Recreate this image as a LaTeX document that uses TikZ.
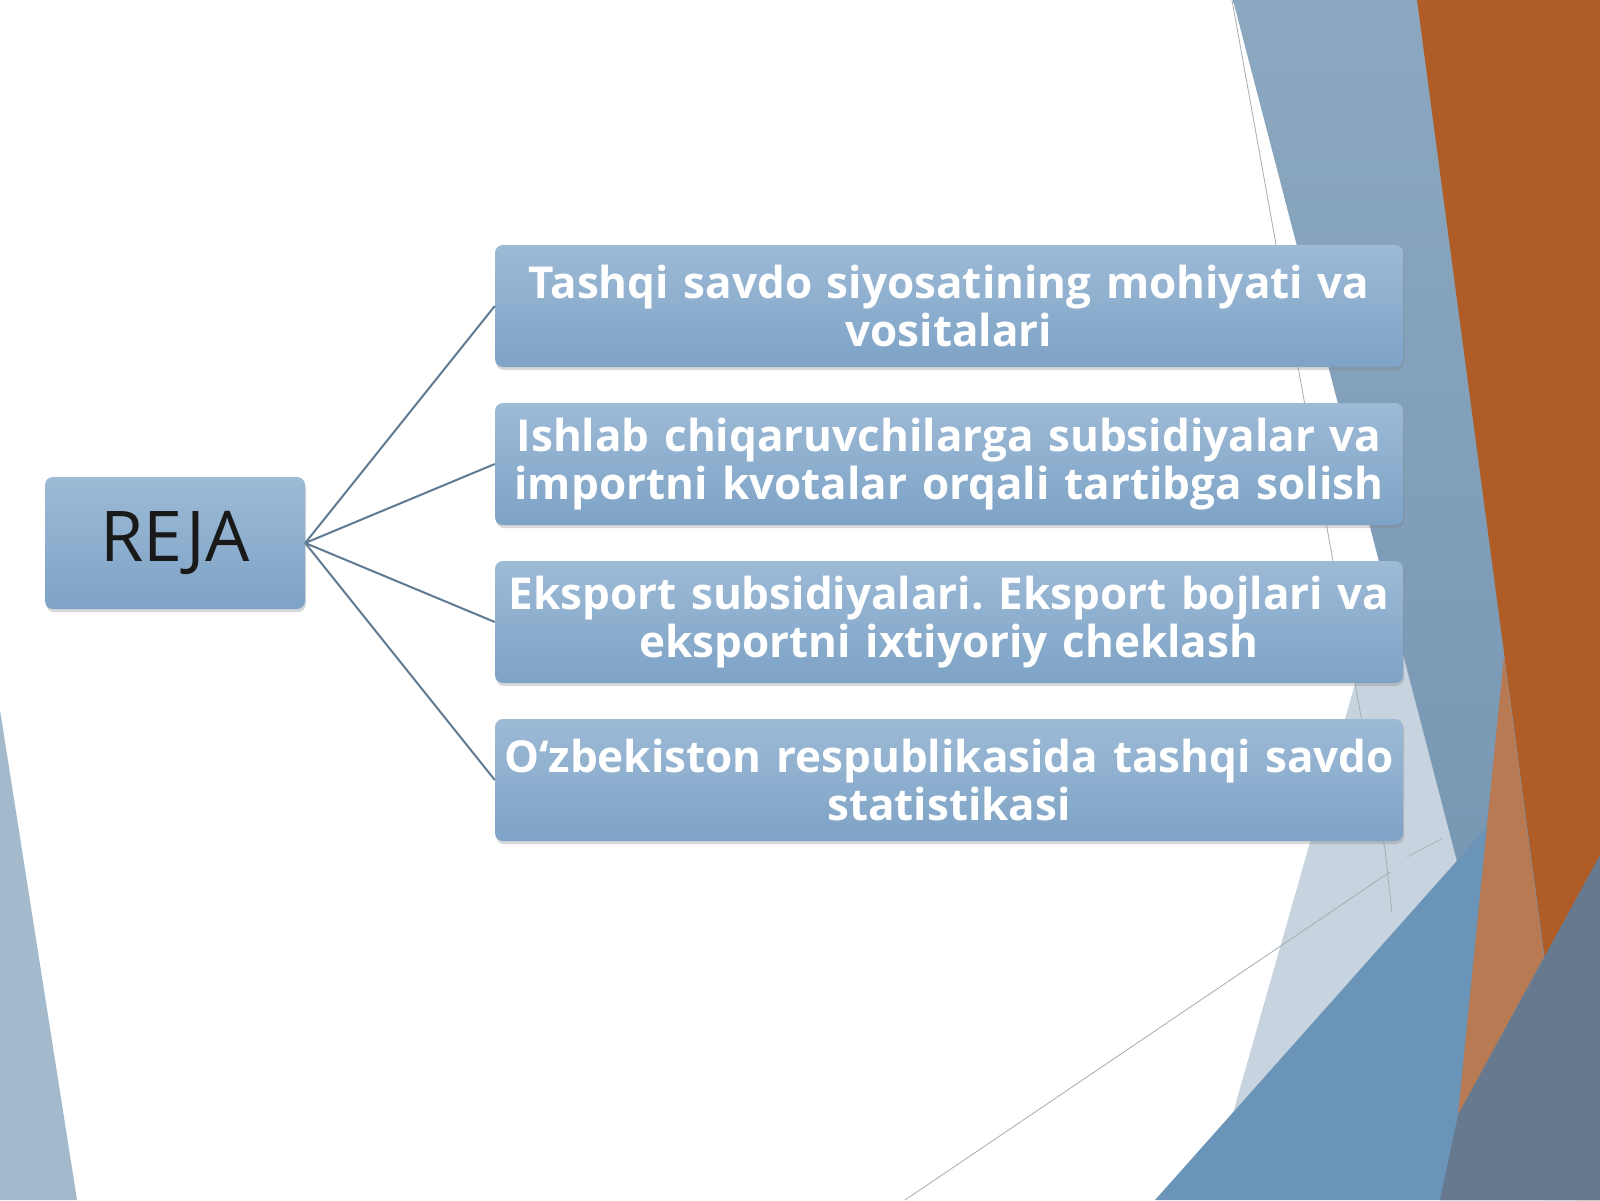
\documentclass[tikz,border=0pt]{standalone}
\usepackage{fontspec}
\setmainfont{Open Sans}
\usetikzlibrary{shadows}
\frenchspacing
\definecolor{leftc}{HTML}{A3B9CC}
\definecolor{bandtop}{HTML}{8CA8C0}
\definecolor{bandbot}{HTML}{7191AF}
\definecolor{lightc}{HTML}{C7D3DE}
\definecolor{midblue}{HTML}{6A94B8}
\definecolor{orangec}{HTML}{AF5C27}
\definecolor{lightorange}{HTML}{B87A52}
\definecolor{slatec}{HTML}{66798F}
\definecolor{thinc}{HTML}{A3ADB5}
\definecolor{boxtop}{HTML}{9DBAD6}
\definecolor{boxbot}{HTML}{7EA3C6}
\definecolor{linkc}{HTML}{5F7A91}
\begin{document}
\begin{tikzpicture}[x=1pt,y=-1pt,
        box/.style={rounded corners=8pt, top color=boxtop, bottom color=boxbot, minimum height=122pt, inner sep=0pt,
            drop shadow={opacity=0.3, shadow xshift=1pt, shadow yshift=-3pt}},
        item/.style={box, minimum width=908pt, text width=900pt, align=center, text=white,
            font=\fontsize{44}{48}\selectfont\bfseries},
        link/.style={draw=linkc, line width=2pt}]
        \useasboundingbox (0,0) rectangle (1600,1200);
        \fill[white] (0,0) rectangle (1600,1200);
        
        % left
        \coordinate (L1) at (0,710);
        \coordinate (L2) at (77,1200);
        \coordinate (L3) at (0,1200);
        \fill[leftc] (L1) -- (L2) -- (L3) -- cycle;
        
        % right
        \coordinate (W1) at (1384,582);
        \coordinate (W2) at (1462,856);
        \coordinate (W3) at (1233,1113);
        \coordinate (S1) at (1233,0);
        \coordinate (S2) at (1600,0);
        \coordinate (S3) at (1600,1200);
        \coordinate (S4) at (1545,1200);
        \coordinate (M1) at (1155,1200);
        \coordinate (M2) at (1520,790);
        \coordinate (M3) at (1600,790);
        \coordinate (O1) at (1417,0);
        \coordinate (O2) at (1577,1200);
        \coordinate (Q1) at (1504,656);
        \coordinate (Q2) at (1544,957);
        \coordinate (Q3) at (1458,1115);
        \coordinate (D1) at (1600,855);
        \coordinate (D2) at (1440,1200);
        
        \fill[lightc] (W1) -- (W2) -- (W3) -- cycle;
        \shade[top color=bandtop, bottom color=bandbot] (S1) -- (S2) -- (S3) -- (S4) -- cycle;
        \draw[thinc, line width=0.8pt] (1232,0) -- (1385,850) -- (1392,913);
        \draw[thinc, line width=0.8pt] (1390,872) -- (905,1200);
        \draw[thinc, line width=0.6pt] (1407,857) -- (1443,838);
        \fill[midblue] (M1) -- (M2) -- (M3) -- (S3) -- cycle;
        \fill[orangec] (O1) -- (S2) -- (S3) -- (O2) -- cycle;
        \fill[lightorange] (Q1) -- (Q2) -- (Q3) -- cycle;
        \fill[slatec] (D1) -- (Q3) -- (D2) -- (S3) -- cycle;
        
        % nodes
        \node[box, minimum width=260pt, minimum height=132pt, text=black!90, font=\fontsize{70}{80}\selectfont] (R) at (175,543) {REJA};
        \node[item] (B1) at (949,306) {Tashqi savdo siyosatining mohiyati va\\vositalari};
        \node[item] (B2) at (949,464) {Ishlab chiqaruvchilarga subsidiyalar va\\importni kvotalar orqali tartibga solish};
        \node[item] (B3) at (949,622) {Eksport subsidiyalari. Eksport bojlari va\\eksportni ixtiyoriy cheklash};
        \node[item] (B4) at (949,780) {O‘zbekiston respublikasida tashqi savdo\\statistikasi};
        
        \draw[link] (R.east) -- (B1.west);
        \draw[link] (R.east) -- (B2.west);
        \draw[link] (R.east) -- (B3.west);
        \draw[link] (R.east) -- (B4.west);
    \end{tikzpicture}
\end{document}
